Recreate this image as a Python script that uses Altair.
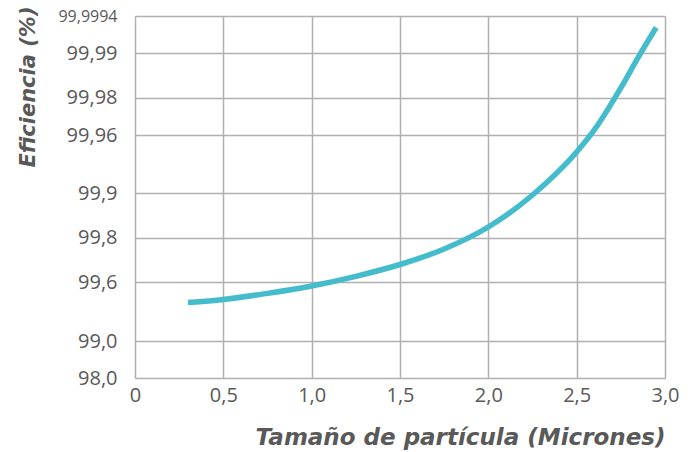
import altair as alt
import pandas as pd

# Particle size (microns) and efficiency (%)
sizes = [0.3, 0.5, 0.75, 1.0, 1.25, 1.5, 1.75, 2.0, 2.25, 2.5, 2.6, 2.75, 2.85, 2.95]
efficiency = [99.3905, 99.4231, 99.4841, 99.5593, 99.6257, 99.679, 99.749,
              99.8241, 99.8962, 99.9425, 99.9627, 99.9822, 99.9892, 99.9965]

# Axis ticks
y_ticks = [98.0, 99.0, 99.6, 99.8, 99.9, 99.96, 99.98, 99.99, 99.9994]
x_ticks = [0, 0.5, 1.0, 1.5, 2.0, 2.5, 3.0]

W, H = 530, 362
# piecewise (non-uniform) vertical scale positions of the y ticks, in px from top
y_range = [362, 325, 266, 221.7, 177.3, 119, 81.7, 37.3, 0]

df = pd.DataFrame({"size": sizes, "eff": efficiency})

FONT = "Open Sans"
TFONT = "DejaVu Sans"
GREY = "#595959"

chart = alt.Chart(df).mark_line(
    color="#45bccb", strokeWidth=5.5, strokeCap="butt", interpolate="monotone"
).encode(
    x=alt.X("size:Q",
            scale=alt.Scale(domain=[0, 3], nice=False, zero=False),
            axis=alt.Axis(
                values=x_ticks,
                labelExpr="datum.value == 0 ? '0' : replace(format(datum.value, '.1f'), '.', ',')",
                title="Tamaño de partícula (Micrones)",
                titleAnchor="end", titleAlign="right", titleX=W, titleY=66,
                titleBaseline="alphabetic",
                titleFont=TFONT, titleFontSize=23, titleFontWeight="bold",
                titleFontStyle="italic", titleColor=GREY,
                labelFont=FONT, labelFontSize=20, labelColor=GREY,
                labelPadding=7, ticks=False, tickSize=0, domain=False,
                grid=True, gridColor="#b0b0b0", gridWidth=1.5,
                labelFlush=False,
            )),
    y=alt.Y("eff:Q",
            scale=alt.Scale(domain=y_ticks, range=y_range, nice=False, zero=False),
            axis=alt.Axis(
                values=y_ticks,
                labelExpr="replace(datum.value % 1 == 0 ? format(datum.value, '.1f') : toString(datum.value), '.', ',')",
                title="Eficiencia (%)",
                titleAngle=270, titleAlign="right", titleBaseline="middle",
                titleX=-107, titleY=-10, titleAnchor="end",
                titleFont=TFONT, titleFontSize=21, titleFontWeight="bold",
                titleFontStyle="italic", titleColor=GREY,
                labelFont=FONT, labelColor=GREY,
                labelFontSize={"condition": {"test": "datum.value > 99.999", "value": 16}, "value": 20},
                labelPadding=18, ticks=False, tickSize=0, domain=False,
                grid=True, gridColor="#b0b0b0", gridWidth=1.5,
                labelFlush=False,
            )),
).properties(
    width=W, height=H,
    autosize=alt.AutoSizeParams(type="none"),
    padding={"left": 127, "top": 8, "right": 25, "bottom": 74},
).configure_view(
    stroke="#a6a6a6", strokeWidth=3
).configure(background="white")

chart.save("out.html", embed_options={"renderer": "svg", "actions": False})
